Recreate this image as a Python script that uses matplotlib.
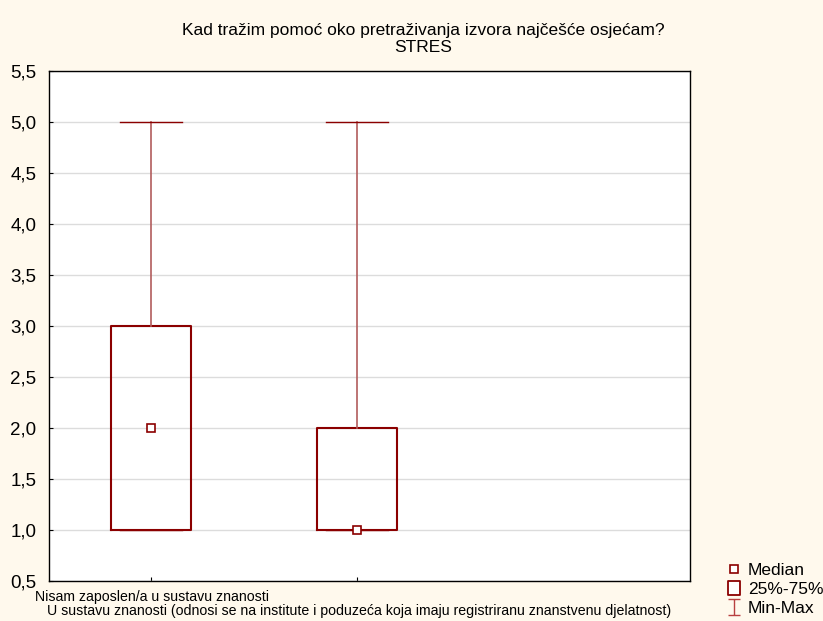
import numpy as np
import matplotlib.pyplot as plt
from matplotlib.lines import Line2D
from matplotlib.path import Path

plt.rcParams['font.family'] = ['Liberation Sans', 'DejaVu Sans']

# data
categories = ['Nisam zaposlen/a u sustavu znanosti',
              'U sustavu znanosti (odnosi se na institute i poduzeća koja imaju registriranu znanstvenu djelatnost)']
medians = [2.0, 1.0]
q1 = [1.0, 1.0]
q3 = [3.0, 2.0]
mins = [1.0, 1.0]
maxs = [5.0, 5.0]
yticks = [0.5, 1.0, 1.5, 2.0, 2.5, 3.0, 3.5, 4.0, 4.5, 5.0, 5.5]

box_col = '#8B0000'
whis_col = '#B25C5C'

fig = plt.figure(figsize=(8.23, 6.21), dpi=100)
fig.patch.set_facecolor('#FFF9ED')
ax = fig.add_axes([0.0595, 0.0644, 0.779, 0.8213])
ax.set_facecolor('white')

stats = []
for i in range(len(categories)):
    stats.append({'med': medians[i], 'q1': q1[i], 'q3': q3[i],
                  'whislo': mins[i], 'whishi': maxs[i], 'label': ''})
pos = np.arange(1, len(categories) + 1)
ax.bxp(stats, positions=pos, widths=0.39, capwidths=0.3, showfliers=False,
       boxprops=dict(color=box_col, linewidth=1.5),
       whiskerprops=dict(color=whis_col, linewidth=1.2),
       capprops=dict(color=box_col, linewidth=1.0),
       medianprops=dict(linewidth=0), zorder=3)
ax.plot(pos, medians, linestyle='none', marker='s', markersize=6,
        markerfacecolor='white', markeredgecolor=box_col, markeredgewidth=1.2, zorder=5)

ax.set_xlim(0.505, 3.617)
ax.set_ylim(0.5, 5.5)
ax.set_yticks(yticks)
ax.set_yticklabels([('%.1f' % v).replace('.', ',') for v in yticks], fontsize=13.5)
ax.set_xticks(pos)
ax.set_xticklabels([])
ax.tick_params(axis='both', direction='in', length=3, color='black')
ax.tick_params(axis='y', pad=9)
ax.yaxis.grid(True, color='#DCDCDC', linewidth=1.0, zorder=0)
ax.set_axisbelow(True)
for s in ax.spines.values():
    s.set_color('black')
    s.set_linewidth(1.0)

# staggered category labels
fig.text(35 / 823, 1 - 597 / 621, categories[0], fontsize=10.2, ha='left', va='center')
fig.text(47 / 823, 1 - 611 / 621, categories[1], fontsize=10.2, ha='left', va='center')

# title
fig.text(423 / 823, 1 - 31 / 621, 'Kad tražim pomoć oko pretraživanja izvora najčešće osjećam?',
         fontsize=12.5, ha='center', va='center')
fig.text(423 / 823, 1 - 48 / 621, 'STRES', fontsize=12.5, ha='center', va='center')

# legend
rect = Path([(-0.78, -1), (0.78, -1), (0.78, 1), (-0.78, 1), (-0.78, -1)],
            [Path.MOVETO, Path.LINETO, Path.LINETO, Path.LINETO, Path.CLOSEPOLY])
ibeam = Path([(-0.7, 1), (0.7, 1), (0, 1), (0, -1), (-0.7, -1), (0.7, -1)],
             [Path.MOVETO, Path.LINETO, Path.MOVETO, Path.LINETO, Path.MOVETO, Path.LINETO])
handles = [
    Line2D([], [], linestyle='none', marker='s', markersize=5.5, markerfacecolor='white',
           markeredgecolor=box_col, markeredgewidth=1.2),
    Line2D([], [], linestyle='none', marker=rect, markersize=10.5, markerfacecolor='white',
           markeredgecolor=box_col, markeredgewidth=1.3),
    Line2D([], [], linestyle='none', marker=ibeam, markersize=11.5, markerfacecolor='none',
           markeredgecolor='#B84040', markeredgewidth=1.0),
]
fig.legend(handles, ['Median', '25%-75%', 'Min-Max'], loc='upper left',
           bbox_to_anchor=(727 / 823, 1 - 563 / 621), frameon=False, fontsize=12.5,
           handlelength=0.8, handletextpad=0.4, labelspacing=0.22, borderaxespad=0,
           borderpad=0)

fig.savefig('out.png', dpi=100, facecolor=fig.get_facecolor())
